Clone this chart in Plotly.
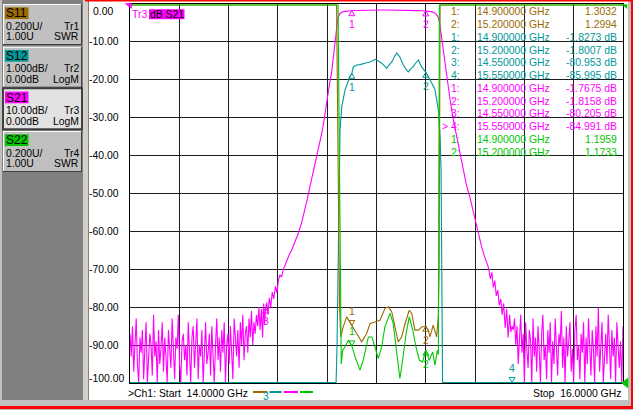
import numpy as np
import plotly.graph_objects as go

# ---------------- figure geometry ----------------
W, H = 633, 410
ML, MR, MT, MB = 130, 10, 4, 27
PW, PH = W - ML - MR, H - MT - MB
FONT = 'Liberation Sans, Arial, sans-serif'
BROWN, TEAL, MAGENTA, GREEN = '#9C6A00', '#009999', '#FF00FF', '#00C800'
GRID = '#1E1E1E'

# ---------------- data ----------------
start_ghz, stop_ghz = 14.0, 16.0
y_tick_values = [0, -10, -20, -30, -40, -50, -60, -70, -80, -90, -100]
y_tick_labels = ['0.00', '-10.00', '-20.00', '-30.00', '-40.00', '-50.00',
                 '-60.00', '-70.00', '-80.00', '-90.00', '-100.00']

# S21 (dB) - noise floor below band
s21_left_noise = [-87, -93, -85, -97, -90, -83, -95, -100, -88, -92, -86, -99, -91, -84, -100, -94, -87, -90, -98, -82,
                  -93, -89, -100, -86, -95, -91, -84, -97, -88, -93, -100, -86, -90, -96, -83, -92, -99, -88, -91, -82,
                  -95, -100, -89, -87, -94, -90, -98, -84, -92, -100, -88, -85, -96, -91, -83, -99, -90, -93, -86, -100,
                  -89, -84, -95, -92, -87, -98, -85, -91, -100, -90, -83, -94, -88, -97, -86, -92, -84, -100, -90, -87,
                  -95, -85, -91, -99, -83, -89, -93, -86, -96, -84, -90, -82, -94, -87, -85, -92, -83, -88, -81, -90,
                  -84, -87, -82, -85, -80]
s21_lo_f = [14.528, 14.533, 14.538, 14.542, 14.546, 14.550, 14.555, 14.560, 14.565, 14.571, 14.577, 14.583,
            14.590, 14.596, 14.602, 14.608, 14.615, 14.622, 14.630, 14.636, 14.645, 14.656, 14.670, 14.683,
            14.697, 14.710, 14.720, 14.730, 14.740, 14.751, 14.761, 14.771, 14.780, 14.787, 14.794, 14.800,
            14.809, 14.818, 14.825, 14.832, 14.836, 14.840, 14.845, 14.852]
s21_lo_db = [-86.0, -80.5, -88.0, -79.0, -84.5, -80.205, -78.8, -82.0, -77.5, -80.0, -76.0, -77.8,
             -74.5, -76.2, -73.0, -71.5, -72.0, -70.0, -68.8, -67.6, -66.3, -64.9, -62.8, -60.5,
             -57.5, -54.4, -51.3, -48.2, -45.2, -42.1, -39.5, -36.8, -33.5, -30.7, -27.6, -24.5,
             -21.3, -18.0, -14.5, -10.5, -7.8, -5.2, -3.4, -2.5]
s21_pass_f = [14.860, 14.870, 14.880, 14.890, 14.900, 14.920, 14.940, 14.960, 14.980, 15.000, 15.020, 15.040,
              15.060, 15.080, 15.100, 15.120, 15.140, 15.160, 15.180, 15.200, 15.215, 15.228, 15.238]
s21_pass_db = [-2.1, -1.95, -1.85, -1.8, -1.7675, -1.7, -1.65, -1.6, -1.55, -1.55, -1.58, -1.6,
               -1.6, -1.65, -1.68, -1.7, -1.72, -1.76, -1.8, -1.8158, -1.95, -2.15, -2.4]
s21_hi_f = [15.244, 15.251, 15.256, 15.261, 15.266, 15.272, 15.278, 15.285, 15.291, 15.298, 15.310, 15.325,
            15.338, 15.352, 15.365, 15.379, 15.390, 15.400, 15.414, 15.427, 15.440, 15.454, 15.462, 15.468,
            15.474, 15.480, 15.486, 15.492, 15.498, 15.504, 15.510, 15.516, 15.522, 15.528, 15.534, 15.540,
            15.545, 15.550]
s21_hi_db = [-2.8, -3.6, -5.0, -7.5, -10.5, -13.2, -15.5, -18.5, -21.5, -25.0, -30.0, -35.1,
             -39.6, -43.9, -47.8, -51.0, -54.0, -57.1, -60.8, -64.2, -67.0, -69.5, -72.5, -70.8,
             -74.8, -73.0, -77.0, -75.5, -79.5, -77.8, -82.0, -79.0, -85.5, -80.5, -88.0, -82.0,
             -86.5, -84.991]
s21_right_noise = [-86, -83, -90, -85, -95, -88, -82, -92, -87, -100, -84, -91, -96, -86, -89, -100, -83, -93, -88, -97,
                   -85, -91, -100, -87, -82, -94, -90, -99, -86, -92, -84, -100, -89, -95, -83, -91, -98, -87, -90, -81,
                   -96, -88, -100, -85, -93, -89, -84, -97, -91, -100, -86, -82, -94, -90, -99, -87, -92, -84, -100, -88,
                   -95, -83, -90, -98, -86, -91, -100, -85, -93, -80, -97, -89, -84, -100, -92, -87, -95, -82, -90, -99,
                   -86, -93, -88, -100, -84, -91, -96, -89, -100, -85]

# S12 (dB, 1 dB/div)
s12_f = [14.000, 14.550, 14.836, 14.840, 14.846, 14.849, 14.852, 14.859, 14.872, 14.892, 14.900, 14.906,
         14.913, 14.920, 14.933, 14.946, 14.960, 14.974, 14.994, 15.005, 15.014, 15.028, 15.041, 15.052,
         15.062, 15.072, 15.082, 15.095, 15.109, 15.120, 15.129, 15.138, 15.148, 15.160, 15.170, 15.183,
         15.192, 15.200, 15.217, 15.237, 15.251, 15.258, 15.262, 15.265, 15.268, 15.550, 16.000]
s12_db = [-82.0, -80.953, -60.0, -9.0, -5.5, -4.2, -3.33, -2.72, -2.27, -1.92, -1.8273, -1.66,
          -1.63, -1.61, -1.6, -1.57, -1.55, -1.53, -1.46, -1.5, -1.53, -1.6, -1.70, -1.6,
          -1.53, -1.4, -1.29, -1.40, -1.61, -1.72, -1.79, -1.72, -1.66, -1.55, -1.48, -1.66,
          -1.74, -1.8007, -2.0, -2.25, -2.8, -3.5, -4.4, -9.0, -60.0, -85.995, -84.0]

# S11 (SWR)
s11_f = [14.000, 14.838, 14.850, 14.855, 14.865, 14.879, 14.900, 14.920, 14.940, 14.960, 14.974, 14.994,
         15.014, 15.034, 15.048, 15.062, 15.075, 15.088, 15.102, 15.116, 15.133, 15.143, 15.156, 15.170,
         15.183, 15.200, 15.210, 15.217, 15.230, 15.244, 15.251, 15.254, 15.258, 16.000]
s11_swr = [25.0, 8.0, 1.40, 1.243, 1.296, 1.349, 1.3032, 1.261, 1.217, 1.261, 1.314, 1.322,
           1.331, 1.393, 1.402, 1.375, 1.296, 1.217, 1.243, 1.314, 1.384, 1.367, 1.279, 1.279,
           1.296, 1.2994, 1.279, 1.243, 1.305, 1.243, 1.358, 1.6, 8.0, 25.0]

# S22 (SWR)
s22_f = [14.000, 14.844, 14.857, 14.863, 14.872, 14.886, 14.900, 14.913, 14.933, 14.946, 14.967, 14.981,
         14.994, 15.007, 15.021, 15.034, 15.055, 15.068, 15.084, 15.095, 15.106, 15.120, 15.133, 15.147,
         15.160, 15.174, 15.187, 15.200, 15.214, 15.228, 15.237, 15.247, 15.251, 15.255, 16.000]
s22_swr = [25.0, 8.0, 1.10, 1.173, 1.190, 1.226, 1.1959, 1.138, 1.068, 1.120, 1.243, 1.243,
           1.190, 1.129, 1.190, 1.296, 1.367, 1.314, 1.138, 1.024, 1.120, 1.261, 1.349, 1.279,
           1.190, 1.120, 1.111, 1.1733, 1.120, 1.164, 1.094, 1.173, 1.15, 8.0, 25.0]

# marker readouts
marker_freqs = [14.9, 15.2, 14.55, 15.55]
s11_marker_vals = [1.3032, 1.2994]
s12_marker_vals = [-1.8273, -1.8007, -80.953, -85.995]
s21_marker_vals = [-1.7675, -1.8158, -80.205, -84.991]
s22_marker_vals = [1.1959, 1.1733]

channels = ['S11', 'S12', 'S21', 'S22']
chan_scale = ['0.200U/', '1.000dB/', '10.00dB/', '0.200U/']
chan_ref = ['1.00U', '0.00dB', '0.00dB', '1.00U']
chan_trace = ['Tr1', 'Tr2', 'Tr3', 'Tr4']
chan_format = ['SWR', 'LogM', 'LogM', 'SWR']
chan_colors = [BROWN, TEAL, MAGENTA, GREEN]

# ---------------- display ranges (instrument clipping) ----------------
S21_RANGE = [-100, 0]
S12_RANGE = [-10, 0]
SWR_RANGE = [1.0, 3.0]

s21_f = np.concatenate([np.linspace(14.0, 14.523, len(s21_left_noise)), s21_lo_f, s21_pass_f,
                        s21_hi_f, np.linspace(15.555, stop_ghz, len(s21_right_noise))])
s21_db = np.concatenate([s21_left_noise, s21_lo_db, s21_pass_db, s21_hi_db, s21_right_noise]).astype(float)

def clip_s12(v):
    return np.clip(np.asarray(v, float), -9.985, 0)

def clip_swr(v):
    return np.clip(np.asarray(v, float), 1.0, 2.995)

fig = go.Figure()
line_w = 1.1
fig.add_trace(go.Scatter(x=s11_f, y=clip_swr(s11_swr), yaxis='y3', mode='lines',
                         line=dict(color=BROWN, width=line_w), name='S11'))
fig.add_trace(go.Scatter(x=s12_f, y=clip_s12(s12_db), yaxis='y2', mode='lines',
                         line=dict(color=TEAL, width=line_w), name='S12'))
fig.add_trace(go.Scatter(x=s21_f, y=np.clip(s21_db, -100, 0), yaxis='y', mode='lines',
                         line=dict(color=MAGENTA, width=line_w), name='S21'))
fig.add_trace(go.Scatter(x=s22_f, y=clip_swr(s22_swr), yaxis='y3', mode='lines',
                         line=dict(color=GREEN, width=line_w), name='S22'))

# ---------------- helpers in pixel space ----------------
def PX(x):
    return (x - ML) / PW

def PY(y):
    return (H - MB - y) / PH

shapes = []
ann = []

def rect(x0, y0, x1, y1, fill, line=None, lw=0, layer='above'):
    shapes.append(dict(type='rect', xref='paper', yref='paper', x0=PX(x0), x1=PX(x1),
                       y0=PY(y1), y1=PY(y0), fillcolor=fill, layer=layer,
                       line=dict(width=lw, color=line or fill)))

def seg(x0, y0, x1, y1, color, w=1):
    shapes.append(dict(type='line', xref='paper', yref='paper', x0=PX(x0), x1=PX(x1),
                       y0=PY(y0), y1=PY(y1), line=dict(color=color, width=w)))

def poly(pts, color):
    p = 'M' + ' L'.join(f'{PX(x):.5f},{PY(y):.5f}' for x, y in pts) + ' Z'
    shapes.append(dict(type='path', xref='paper', yref='paper', path=p, fillcolor=color,
                       line=dict(color=color, width=0.5)))

def txt(x, y, s, color='black', anchor='left', size=10.4, bg=None):
    ann.append(dict(xref='paper', yref='paper', x=PX(x), y=PY(y), text=s, showarrow=False,
                    xanchor=anchor, yanchor='middle', borderpad=0, borderwidth=0,
                    bgcolor=bg, font=dict(family=FONT, size=size, color=color)))

def marker(f, v, yref, num, color, up=True):
    path = 'M0,0 L-3,-5 L3,-5 Z' if up else 'M0,0 L-3,5 L3,5 Z'
    shapes.append(dict(type='path', xref='x', yref=yref, xsizemode='pixel', ysizemode='pixel',
                       xanchor=f, yanchor=v, path=path, fillcolor='rgba(0,0,0,0)',
                       line=dict(color=color, width=1), layer='above'))
    ann.append(dict(xref='x', yref=yref, x=f, y=v, text=str(num), showarrow=False,
                    xanchor='center', yanchor='middle', yshift=(-14 if up else 14),
                    borderpad=0, font=dict(family=FONT, size=10.4, color=color)))

# ---------------- window chrome ----------------
rect(0, 0, 89, 410, '#808080')
rect(0, 0, 2, 400, '#c0c0c0')
rect(83, 0, 88, 400, '#d4d0c8')
rect(88, 0, 89, 400, '#808080')
rect(0, 400, 633, 406, '#c0c0c0')
rect(0, 406, 633, 409, '#FF0000')
rect(0, 409, 633, 410, '#c0c0c0')
rect(628, 0, 631, 406, '#c0c0c0')
rect(631, 0, 633, 409, '#FF0000')
rect(85, 0, 633, 1.5, '#FF0000')

# channel buttons
button_tops = [4, 46.7, 88.3, 131]
for i, top in enumerate(button_tops):
    active = (i == 2)
    rect(3, top, 82, top + 41, '#e2e2e2' if active else '#c0c0c0')
    if active:
        rect(3, top, 82, top + 41, 'rgba(0,0,0,0)', line='#404040', lw=2)
    else:
        seg(3, top + 0.5, 82, top + 0.5, 'white')
        seg(3.5, top, 3.5, top + 41, 'white')
        seg(3, top + 40.5, 82, top + 40.5, '#404040')
        seg(81.5, top, 81.5, top + 41, '#404040')
    rect(5, top + 3.3, 28.5, top + 15, chan_colors[i])
    txt(6, top + 9.2, channels[i], size=12)
    txt(6, top + 22.3, chan_scale[i])
    txt(78.5, top + 22.3, chan_trace[i], anchor='right')
    txt(6, top + 32.7, chan_ref[i])
    txt(78.5, top + 32.7, chan_format[i], anchor='right')

# y tick labels
for v, lab in zip(y_tick_values, y_tick_labels):
    ypx = MT + (0 - v) / 100 * PH
    xs = 89.3
    if v == 0:
        ypx += 7.9
        xs += 3.4
    if v == -100:
        ypx -= 4.5
    txt(xs, ypx, lab)

# trace title
txt(131.7, 14, 'Tr3', color=MAGENTA)
rect(149, 9.3, 184.5, 19.3, MAGENTA)
txt(150, 14.3, 'dB S21')

# reference position pointers
poly([(125, 3.5), (131.5, 3.5), (131.5, 8.5)], MAGENTA)
poly([(621.5, 383), (628, 378), (628, 388)], GREEN)
poly([(622, 4.5), (627, 4.5), (627, 8.5)], GREEN)

# bottom status line
txt(127.7, 393, '>Ch1: Start\u00a0 %.4f GHz' % start_ghz)
txt(620.5, 393, 'Stop\u00a0 %.4f GHz' % stop_ghz, anchor='right')
for (x0, x1), c in zip([(253, 267.5), (269.5, 281.7), (283.7, 298), (300, 313)], chan_colors):
    seg(x0, 392, x1, 392, c, w=2)

# marker readout table
rows = []
for k, v in enumerate(s11_marker_vals):
    rows.append((BROWN, f'{k + 1}:', marker_freqs[k], f'{v:.4f}'))
for k, v in enumerate(s12_marker_vals):
    rows.append((TEAL, f'{k + 1}:', marker_freqs[k], f'{v:.5g} dB'))
for k, v in enumerate(s21_marker_vals):
    rows.append((MAGENTA, ('> ' if k == 3 else '') + f'{k + 1}:', marker_freqs[k], f'{v:.5g} dB'))
for k, v in enumerate(s22_marker_vals):
    rows.append((GREEN, f'{k + 1}:', marker_freqs[k], f'{v:.4f}'))
for r, (c, lab, f, val) in enumerate(rows):
    yy = 11.7 + 12.77 * r
    txt(459.5, yy, lab, color=c, anchor='right')
    txt(476.5, yy, f'{f:.6f} GHz', color=c)
    txt(617, yy, val, color=c, anchor='right')

# trace markers (triangle apex on the trace)
for k in range(2):
    marker(marker_freqs[k], s21_marker_vals[k], 'y', k + 1, MAGENTA, up=True)
    marker(marker_freqs[k], s12_marker_vals[k], 'y2', k + 1, TEAL, up=True)
marker(marker_freqs[2], s21_marker_vals[2], 'y', 3, MAGENTA, up=True)
marker(marker_freqs[2], float(clip_s12(s12_marker_vals[2])), 'y2', 3, TEAL, up=True)
marker(marker_freqs[3], float(clip_s12(s12_marker_vals[3])), 'y2', 4, TEAL, up=False)
marker(marker_freqs[0], s11_marker_vals[0], 'y3', 1, BROWN, up=False)
marker(marker_freqs[1], s11_marker_vals[1], 'y3', 2, BROWN, up=True)
marker(marker_freqs[0], s22_marker_vals[0], 'y3', 1, GREEN, up=False)
marker(marker_freqs[1], s22_marker_vals[1], 'y3', 2, GREEN, up=True)

fig.update_layout(
    width=W, height=H, margin=dict(l=ML, r=MR, t=MT, b=MB, pad=0),
    paper_bgcolor='white', plot_bgcolor='white', showlegend=False,
    xaxis=dict(range=[start_ghz, stop_ghz], tick0=start_ghz, dtick=0.2, showgrid=True,
               gridcolor=GRID, gridwidth=1.3, showticklabels=False, ticks='', zeroline=False,
               showline=True, mirror=True, linecolor='black', linewidth=1, layer='below traces'),
    yaxis=dict(range=S21_RANGE, tick0=0, dtick=10, showgrid=True, gridcolor=GRID, gridwidth=1.3,
               showticklabels=False, ticks='', zeroline=False, showline=True, mirror=True,
               linecolor='black', linewidth=1, layer='below traces'),
    yaxis2=dict(range=S12_RANGE, overlaying='y', visible=False, showgrid=False, zeroline=False),
    yaxis3=dict(range=SWR_RANGE, overlaying='y', visible=False, showgrid=False, zeroline=False),
    shapes=shapes, annotations=ann,
)

fig.write_html('out.html', config={'displayModeBar': False},
               post_script="document.body.style.margin='0';document.body.style.overflow='hidden';")
